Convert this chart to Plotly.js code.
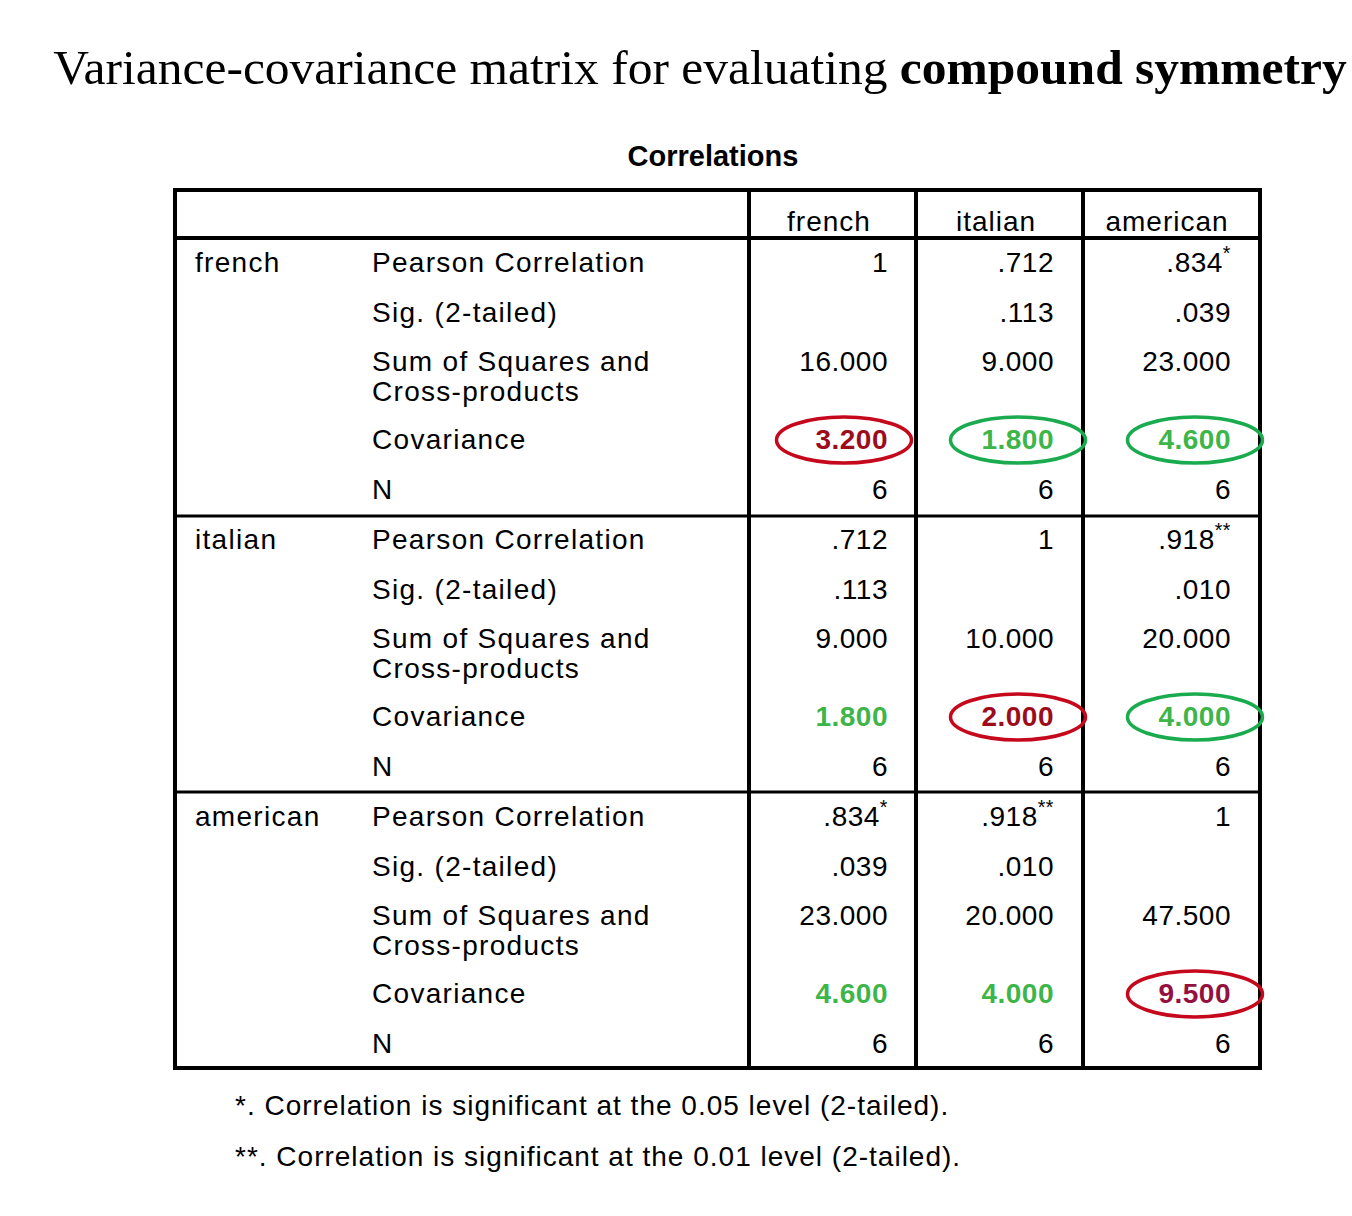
<!DOCTYPE html>
<html>
<head>
<meta charset="utf-8">
<script src="https://cdn.plot.ly/plotly-3.0.1.min.js"></script>
<style>html,body{margin:0;padding:0;background:#fff;}#chart{width:1352px;height:1216px;}</style>
</head>
<body>
<div id="chart"></div>
<script>
// ---------- data ----------
const titlePlain = 'Variance-covariance matrix for evaluating ';
const titleBold = 'compound symmetry';
const tableTitle = 'Correlations';
const variables = ['french', 'italian', 'american'];
const statLabels = ['Pearson Correlation', 'Sig. (2-tailed)', 'Sum of Squares and', 'Covariance', 'N'];
const statLabelExtra = 'Cross-products';
const pearson = [[1, 0.712, 0.834], [0.712, 1, 0.918], [0.834, 0.918, 1]];
const sigFlags = [['', '', '*'], ['', '', '**'], ['*', '**', '']];
const sig2 = [[null, 0.113, 0.039], [0.113, null, 0.010], [0.039, 0.010, null]];
const sumSquares = [[16, 9, 23], [9, 10, 20], [23, 20, 47.5]];
const covariance = [[3.2, 1.8, 4.6], [1.8, 2.0, 4.0], [4.6, 4.0, 9.5]];
const nValues = [[6, 6, 6], [6, 6, 6], [6, 6, 6]];
const footnotes = ['*. Correlation is significant at the 0.05 level (2-tailed).',
                   '**. Correlation is significant at the 0.01 level (2-tailed).'];

// ---------- layout constants (pixel space) ----------
const W = 1352, H = 1216;
const FONT = 'Liberation Sans, Arial, sans-serif';
const FS = 28;
const tLeft = 175, tRight = 1260, tTop = 190, tBottom = 1068, headBottom = 238;
const colLines = [749, 916, 1083];
const groupSep = [516, 792];
const headerX = [829, 996, 1167];
const colRight = [888, 1054, 1231];
const groupBase = 265, groupStep = 277;
const rowOffsets = [0, 50, 99, 177, 227];
const extraOffset = 129;
const varLabelX = 195, statLabelX = 372;
const ellipseCx = [844, 1018, 1195], ellipseW = 135, ellipseH = 46;
const GREEN_TXT = '#3db549', RED_TXT = ['#9c0c1c', '#9c0c1c', '#94103e'];
const GREEN_LINE = '#1aab4f', RED_LINE = '#c5081c';

function fmtCorr(v) { return v === 1 ? '1' : v.toFixed(3).replace(/^0/, ''); }
function fmtSig(v) { return v === null ? '' : v.toFixed(3).replace(/^0/, ''); }
function fmt3(v) { return v.toFixed(3); }

const traces = [];
// 0: header
traces.push({x: headerX, y: headerX.map(() => 224), text: variables, mode: 'text',
  textposition: 'middle center', textfont: {family: FONT, size: FS, color: '#000'}, hoverinfo: 'skip'});
// 1: table title
traces.push({x: [713], y: [159], text: ['<b>' + tableTitle + '</b>'], mode: 'text',
  textposition: 'middle center', textfont: {family: FONT, size: 29, color: '#000'}, hoverinfo: 'skip'});

// 2: row labels
const lx = [], ly = [], lt = [];
variables.forEach((v, g) => {
  const base = groupBase + g * groupStep;
  lx.push(varLabelX); ly.push(base); lt.push(v);
  statLabels.forEach((s, r) => { lx.push(statLabelX); ly.push(base + rowOffsets[r]); lt.push(s); });
  lx.push(statLabelX); ly.push(base + extraOffset); lt.push(statLabelExtra);
});
traces.push({x: lx, y: ly, text: lt, mode: 'text', textposition: 'middle right',
  textfont: {family: FONT, size: FS, color: '#000'}, hoverinfo: 'skip'});

// 3: values
const vx = [], vy = [], vt = [], vc = [];
variables.forEach((v, g) => {
  const base = groupBase + g * groupStep;
  for (let c = 0; c < 3; c++) {
    const rows = [
      fmtCorr(pearson[g][c]) + (sigFlags[g][c] ? '<sup>' + sigFlags[g][c] + '</sup>' : ''),
      fmtSig(sig2[g][c]),
      fmt3(sumSquares[g][c]),
      '<b>' + fmt3(covariance[g][c]) + '</b>',
      String(nValues[g][c])
    ];
    rows.forEach((t, r) => {
      if (!t) return;
      vx.push(colRight[c]); vy.push(base + rowOffsets[r]); vt.push(t);
      vc.push(r === 3 ? (g === c ? RED_TXT[g] : GREEN_TXT) : '#000');
    });
  }
});
traces.push({x: vx, y: vy, text: vt, mode: 'text', textposition: 'middle left',
  textfont: {family: FONT, size: FS, color: vc}, hoverinfo: 'skip'});

// 4: footnotes
traces.push({x: [235, 235], y: [1108, 1159], text: footnotes, mode: 'text', textposition: 'middle right',
  textfont: {family: FONT, size: FS, color: '#000'}, hoverinfo: 'skip'});

// shapes
const shapes = [];
function line(x0, y0, x1, y1, w) {
  shapes.push({type: 'line', xref: 'x', yref: 'y', x0, y0, x1, y1, line: {color: '#000', width: w}});
}
line(tLeft - 2, tTop, tRight + 2, tTop, 4);
line(tLeft - 2, tBottom, tRight + 2, tBottom, 4);
line(tLeft, tTop, tLeft, tBottom, 4);
line(tRight, tTop, tRight, tBottom, 4);
line(tLeft, headBottom, tRight, headBottom, 4);
colLines.forEach(x => line(x, tTop, x, tBottom, 4));
groupSep.forEach(y => line(tLeft, y, tRight, y, 3));

// ellipses around covariance cells (upper triangle + diagonal)
variables.forEach((v, g) => {
  const cy = groupBase - 2 + g * groupStep + rowOffsets[3];
  for (let c = g; c < 3; c++) {
    shapes.push({type: 'circle', xref: 'x', yref: 'y',
      x0: ellipseCx[c] - ellipseW / 2, x1: ellipseCx[c] + ellipseW / 2,
      y0: cy - ellipseH / 2, y1: cy + ellipseH / 2,
      line: {color: g === c ? RED_LINE : GREEN_LINE, width: 3.5}});
  }
});

const layout = {
  width: W, height: H,
  margin: {l: 0, r: 0, t: 0, b: 0},
  paper_bgcolor: '#fff', plot_bgcolor: '#fff',
  showlegend: false,
  title: {text: titlePlain + '<b>' + titleBold + '</b>',
    font: {family: 'Liberation Serif, Times New Roman, serif', size: 49.5, color: '#000'},
    x: 700 / W, xanchor: 'center', y: 1 - 67 / H, yanchor: 'middle', xref: 'paper', yref: 'paper'},
  xaxis: {range: [0, W], visible: false, fixedrange: true},
  yaxis: {range: [H, 0], visible: false, fixedrange: true},
  shapes: shapes
};
const spacing = ['1px', '0px', '1.3px', '0.5px', '1px'];
Plotly.newPlot('chart', traces, layout, {staticPlot: true, displayModeBar: false}).then(gd => {
  const groups = gd.querySelectorAll('.scatterlayer .trace');
  groups.forEach((grp, i) => {
    grp.querySelectorAll('text').forEach(t => { t.style.letterSpacing = spacing[i] || '0px'; });
  });
});
</script>
</body>
</html>
